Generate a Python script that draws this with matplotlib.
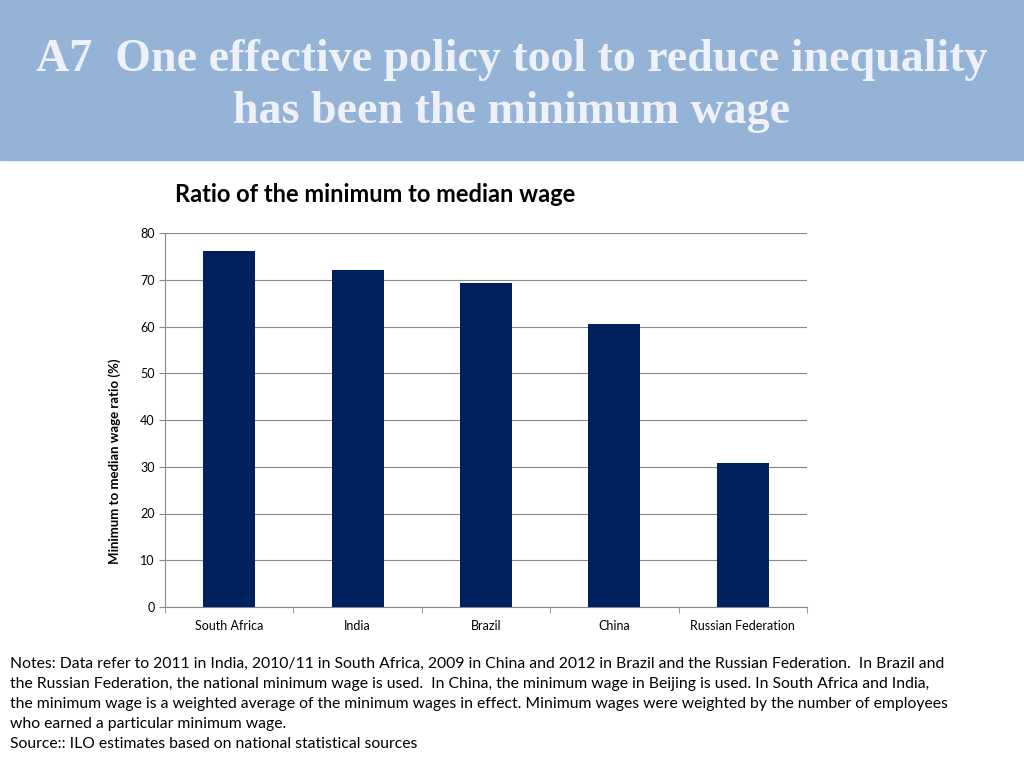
import numpy as np
import matplotlib.pyplot as plt

countries = ["South Africa", "India", "Brazil", "China", "Russian Federation"]
ratios = [76.1, 72.0, 69.2, 60.5, 30.8]
yticks = [0, 10, 20, 30, 40, 50, 60, 70, 80]

notes = ("Notes: Data refer to 2011 in India, 2010/11 in South Africa, 2009 in China and 2012 in Brazil and the Russian Federation.  In Brazil and\n"
         "the Russian Federation, the national minimum wage is used.  In China, the minimum wage in Beijing is used. In South Africa and India,\n"
         "the minimum wage is a weighted average of the minimum wages in effect. Minimum wages were weighted by the number of employees\n"
         "who earned a particular minimum wage.\n"
         "Source:: ILO estimates based on national statistical sources")

plt.rcParams['font.family'] = ['Lato', 'DejaVu Sans']

fig = plt.figure(figsize=(10.24, 7.67), dpi=100)

# header band
fig.patches.append(plt.Rectangle((0, 1 - 160/767), 1, 160/767, transform=fig.transFigure,
                                 color='#95B3D7', zorder=0))
fig.text(0.5, 1 - 86/767, "A7  One effective policy tool to reduce inequality\nhas been the minimum wage",
         ha='center', va='center', fontsize=33, fontweight='bold', color='#EEF2F8',
         family='Liberation Serif', linespacing=1.3)

ax = fig.add_axes([165/1024, 1 - 607/767, 642/1024, 374/767])
x = np.arange(len(countries))
ax.bar(x, ratios, width=0.405, color='#002060', zorder=3)
ax.set_xlim(-0.5, len(countries) - 0.5)
ax.set_ylim(0, 80)
ax.set_yticks(yticks)
ax.tick_params(axis='y', labelsize=9, length=4, color='#888888')
ax.set_xticks(x)
ax.set_xticklabels(countries, fontsize=9)
ax.tick_params(axis='x', length=0, pad=9)
ax.set_xticks(np.arange(len(countries) + 1) - 0.5, minor=True)
ax.tick_params(axis='x', which='minor', length=4, color='#888888')
ax.grid(axis='y', color='#888888', linewidth=0.8, zorder=0)
for s in ['top', 'right']:
    ax.spines[s].set_visible(False)
for s in ['left', 'bottom']:
    ax.spines[s].set_color('#888888')
ax.set_ylabel("Minimum to median wage ratio (%)", fontsize=9.5, fontweight='bold')
ax.yaxis.set_label_coords(-0.068, 0.39)

fig.text(175/1024, 1 - 195/767, "Ratio of the minimum to median wage", fontsize=17,
         fontweight='bold', va='center', ha='left')

fig.text(10/1024, 1 - 657/767, notes, fontsize=11.3, va='top', ha='left', linespacing=1.55)

fig.savefig("out.png", dpi=100)
